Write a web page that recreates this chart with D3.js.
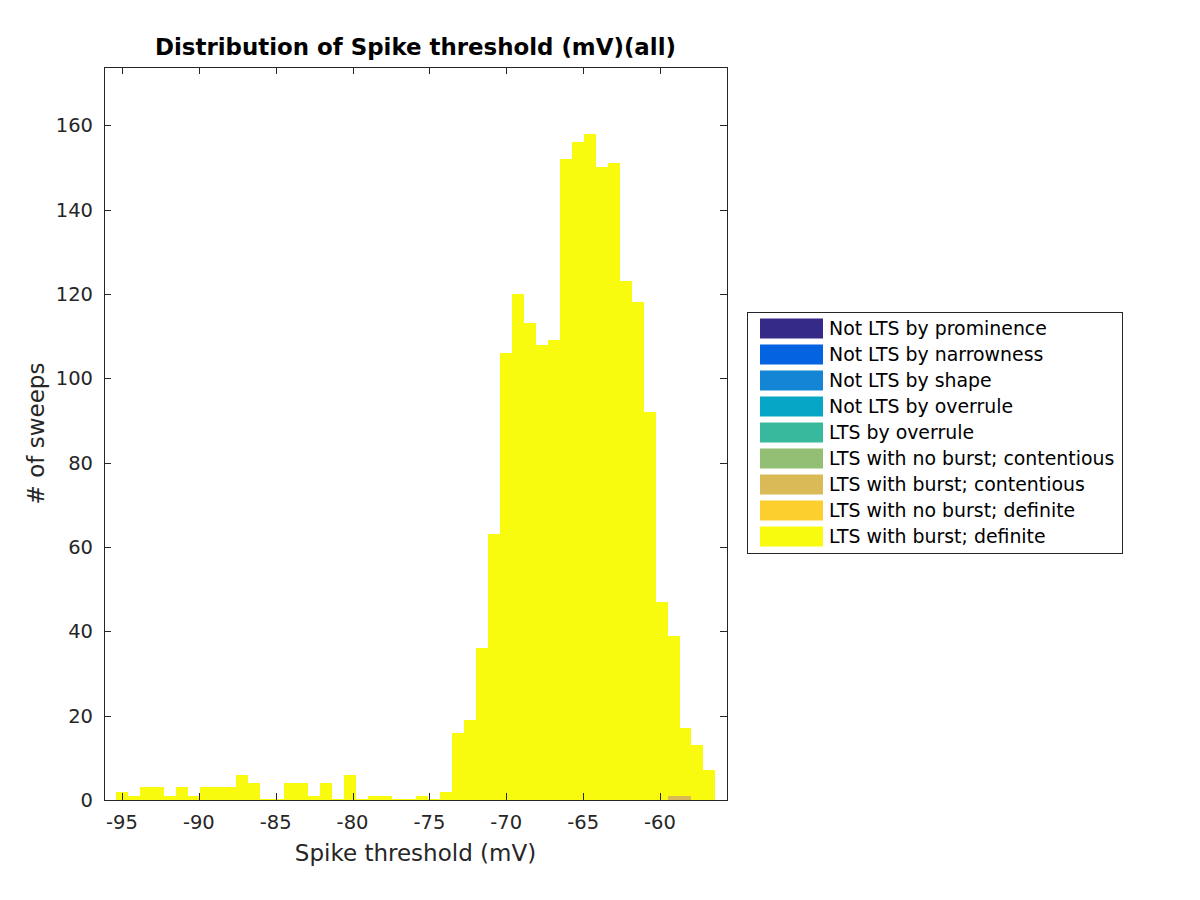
<!DOCTYPE html>
<html>
<head>
<meta charset="utf-8">
<script src="https://cdn.jsdelivr.net/npm/d3@7"></script>
<style>
  body { margin: 0; background: #fff; }
  text { font-family: "DejaVu Sans", sans-serif; }
</style>
</head>
<body>
<svg id="chart" width="1200" height="900"></svg>
<script>
// histogram bins (mV)
var binStart = -95.39;
var binWidth = 0.78;
var nBins = 50;

var seriesNames = [
  "Not LTS by prominence",
  "Not LTS by narrowness",
  "Not LTS by shape",
  "Not LTS by overrule",
  "LTS by overrule",
  "LTS with no burst; contentious",
  "LTS with burst; contentious",
  "LTS with no burst; definite",
  "LTS with burst; definite"
];
var seriesColors = ["#352a87", "#0363e1", "#1485d4", "#06a7c6", "#38b99e",
                    "#92bf73", "#d9ba56", "#fcce2e", "#f9fb0e"];

var notProminence = [0,0,0,0,0,0,0,0,0,0, 0,0,0,0,0,0,0,0,0,0, 0,0,0,0,0,0,0,0,0,0, 0,0,0,0,0,0,0,0,0,0, 0,0,0,0,0,0,0,0,0,0];
var notNarrowness = [0,0,0,0,0,0,0,0,0,0, 0,0,0,0,0,0,0,0,0,0, 0,0,0,0,0,0,0,0,0,0, 0,0,0,0,0,0,0,0,0,0, 0,0,0,0,0,0,0,0,0,0];
var notShape      = [0,0,0,0,0,0,0,0,0,0, 0,0,0,0,0,0,0,0,0,0, 0,0,0,0,0,0,0,0,0,0, 0,0,0,0,0,0,0,0,0,0, 0,0,0,0,0,0,0,0,0,0];
var notOverrule   = [0,0,0,0,0,0,0,0,0,0, 0,0,0,0,0,0,0,0,0,0, 0,0,0,0,0,0,0,0,0,0, 0,0,0,0,0,0,0,0,0,0, 0,0,0,0,0,0,0,0,0,0];
var ltsOverrule   = [0,0,0,0,0,0,0,0,0,0, 0,0,0,0,0,0,0,0,0,0, 0,0,0,0,0,0,0,0,0,0, 0,0,0,0,0,0,0,0,0,0, 0,0,0,0,0,0,0,0,0,0];
var noBurstCont   = [0,0,0,0,0,0,0,0,0,0, 0,0,0,0,0,0,0,0,0,0, 0,0,0,0,0,0,0,0,0,0, 0,0,0,0,0,0,0,0,0,0, 0,0,0,0,0,0,0,0,0,0];
var burstCont     = [0,0,0,0,0,0,0,0,0,0, 0,0,0,0,0,0,0,0,0,0, 0,0,0,0,0,0,0,0,0,0, 0,0,0,0,0,0,0,0,0,0, 0,0,0,0,0,0,1,1,0,0];
var noBurstDef    = [0,0,0,0,0,0,0,0,0,0, 0,0,0,0,0,0,0,0,0,0, 0,0,0,0,0,0,0,0,0,0, 0,0,0,0,0,0,0,0,0,0, 0,0,0,0,0,0,0,0,0,0];
var burstDef      = [2,1,3,3,1,3,1,3,3,3, 6,4,0,0,4,4,1,4,0,6, 0,1,1,0,0,1,0,2,16,19,
                     36,63,106,120,113,108,109,152,156,158, 150,151,123,118,92,47,38,16,13,7];

var allSeries = [notProminence, notNarrowness, notShape, notOverrule, ltsOverrule,
                 noBurstCont, burstCont, noBurstDef, burstDef];

var xTicks = [-95, -90, -85, -80, -75, -70, -65, -60];
var yTicks = [0, 20, 40, 60, 80, 100, 120, 140, 160];

// layout (plot box in pixels)
var boxL = 104, boxR = 727, boxT = 67, boxB = 800;
var axisColor = "#262626";

var svg = d3.select("#chart");

var x = d3.scaleLinear().domain([-96.17, -55.64]).range([boxL, boxR]);
var y = d3.scaleLinear().domain([0, 173.8]).range([boxB, boxT]);

// build table for stack
var table = d3.range(nBins).map(function(i) {
  var row = { x0: binStart + i * binWidth, x1: binStart + (i + 1) * binWidth };
  allSeries.forEach(function(s, k) { row["s" + k] = s[i]; });
  return row;
});
var stack = d3.stack().keys(seriesNames.map(function(d, k) { return "s" + k; }));
var layers = stack(table);

var bars = svg.append("g");
// zero-height bars show as a line at the baseline
bars.append("line")
  .attr("x1", x(binStart)).attr("x2", x(binStart + nBins * binWidth))
  .attr("y1", y(0) - 0.5).attr("y2", y(0) - 0.5)
  .attr("stroke", seriesColors[8]).attr("stroke-width", 1);

layers.forEach(function(layer, k) {
  bars.selectAll(null)
    .data(layer.filter(function(d) { return d[1] > d[0]; }))
    .enter()
    .append("rect")
    .attr("x", function(d) { return x(d.data.x0); })
    .attr("width", function(d) { return x(d.data.x1) - x(d.data.x0); })
    .attr("y", function(d) { return y(d[1]); })
    .attr("height", function(d) { return y(d[0]) - y(d[1]); })
    .attr("fill", seriesColors[k])
    .attr("shape-rendering", "crispEdges");
});

// axes box
var ax = svg.append("g");
ax.append("rect")
  .attr("x", boxL + 0.5).attr("y", boxT + 0.5)
  .attr("width", boxR - boxL).attr("height", boxB - boxT)
  .attr("fill", "none").attr("stroke", axisColor).attr("stroke-width", 1);

var tickLen = 7;
xTicks.forEach(function(t) {
  var px = Math.round(x(t)) + 0.5;
  ax.append("line").attr("x1", px).attr("x2", px).attr("y1", boxB).attr("y2", boxB - tickLen).attr("stroke", axisColor);
  ax.append("line").attr("x1", px).attr("x2", px).attr("y1", boxT).attr("y2", boxT + tickLen).attr("stroke", axisColor);
  ax.append("text").attr("x", x(t)).attr("y", 829)
    .attr("text-anchor", "middle").attr("font-size", 19.5).attr("fill", axisColor).text(t);
});
yTicks.forEach(function(t) {
  var py = Math.round(y(t)) + 0.5;
  ax.append("line").attr("x1", boxL).attr("x2", boxL + tickLen).attr("y1", py).attr("y2", py).attr("stroke", axisColor);
  ax.append("line").attr("x1", boxR).attr("x2", boxR - tickLen).attr("y1", py).attr("y2", py).attr("stroke", axisColor);
  ax.append("text").attr("x", 93).attr("y", y(t) + 7)
    .attr("text-anchor", "end").attr("font-size", 19.5).attr("fill", axisColor).text(t);
});

// labels
svg.append("text").attr("x", (boxL + boxR) / 2).attr("y", 55)
  .attr("text-anchor", "middle").attr("font-size", 22.9).attr("font-weight", "bold")
  .attr("fill", "#000").text("Distribution of Spike threshold (mV)(all)");
svg.append("text").attr("x", (boxL + boxR) / 2).attr("y", 861)
  .attr("text-anchor", "middle").attr("font-size", 23).attr("fill", axisColor)
  .text("Spike threshold (mV)");
svg.append("text").attr("transform", "translate(44," + (boxT + boxB) / 2 + ") rotate(-90)")
  .attr("text-anchor", "middle").attr("font-size", 23).attr("fill", axisColor)
  .text("# of sweeps");

// legend
var lg = svg.append("g");
lg.append("rect").attr("x", 747.5).attr("y", 312.5).attr("width", 375).attr("height", 241)
  .attr("fill", "#fff").attr("stroke", axisColor).attr("stroke-width", 1);
seriesNames.forEach(function(name, k) {
  var cy = 328.5 + k * 26;
  lg.append("rect").attr("x", 760).attr("y", cy - 10).attr("width", 63).attr("height", 20)
    .attr("fill", seriesColors[k]);
  lg.append("text").attr("x", 829).attr("y", cy + 6.5).attr("font-size", 18.9)
    .attr("fill", "#000").text(name);
});
</script>
</body>
</html>
